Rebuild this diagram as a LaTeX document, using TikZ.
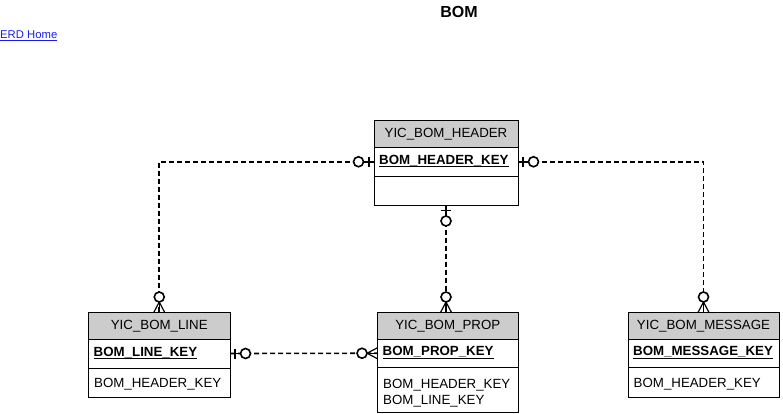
\documentclass[tikz,border=0pt]{standalone}
\usepackage{fontspec}
\setmainfont{Liberation Sans}
\usetikzlibrary{calc}
\definecolor{bandgray}{HTML}{CCCCCC}
\definecolor{linkblue}{HTML}{1A1AEE}
\newcommand\keyul[1]{\setbox0\hbox{#1}\rlap{\rule[-2.8pt]{\wd0}{0.9pt}}\box0}
\newcommand\linkul[1]{\setbox0\hbox{#1}\rlap{\rule[-1.6pt]{\wd0}{0.8pt}}\box0}
\begin{document}
\begin{tikzpicture}[x=1pt,y=-1pt,
  efont/.style={font=\fontsize{13.3}{16}\selectfont},
  band/.style={draw=black, fill=bandgray, line width=0.9pt, anchor=north west, inner sep=0pt, outer sep=0pt, efont},
  row/.style={draw=black, fill=white, line width=0.9pt, anchor=north west, inner sep=0pt, outer sep=0pt},
  keytxt/.style={anchor=base west, inner sep=2pt, efont, font=\fontsize{13.3}{16}\selectfont\bfseries},
  attrtxt/.style={anchor=base west, inner sep=2pt, efont},
  rel/.style={line width=1.6pt, dash pattern=on 5pt off 3pt},
  solidrel/.style={line width=1.6pt},
  crowline/.style={line width=1.2pt},
  zeroone/.pic={
    \draw[solidrel] (0,0) -- (10.5,0);
    \draw[solidrel] (5,-5) -- (5,5);
    \draw[solidrel, fill=white] (15.5,0) circle[radius=5pt];
  },
  zeromany/.pic={
    \draw[crowline] (10.5,0) -- (0,0);
    \draw[crowline] (10.5,0) -- (0,-5.5);
    \draw[crowline] (10.5,0) -- (0,5.5);
    \draw[solidrel, fill=white] (15.5,0) circle[radius=5pt];
  }
]
\useasboundingbox (0,0) rectangle (783,414);

% title and link
\node[font=\fontsize{16}{18}\selectfont\bfseries, inner sep=0pt] (title) at (459,11.5) {BOM};
\node[anchor=base west, inner sep=0pt, text=linkblue, font=\fontsize{11.3}{13}\selectfont] (home) at (0,39) {\color{linkblue}\linkul{ERD Home}};

% YIC_BOM_HEADER
\node[band, minimum width=144pt, minimum height=27.5pt] (hdrT) at (374,120) {YIC\_BOM\_HEADER};
\node[row, minimum width=144pt, minimum height=28.5pt] (hdrK) at (hdrT.south west) {};
\node[row, minimum width=144pt, minimum height=29.5pt] (hdrA) at (hdrK.south west) {};
\node[keytxt] (hdrKt) at ($(hdrK.west)+(3,2.5)$) {\keyul{BOM\_HEADER\_KEY}};

% YIC_BOM_LINE
\node[band, minimum width=141.5pt, minimum height=26.5pt] (lineT) at (88.5,312.5) {YIC\_BOM\_LINE};
\node[row, minimum width=141.5pt, minimum height=29pt] (lineK) at (lineT.south west) {};
\node[row, minimum width=141.5pt, minimum height=29pt] (lineA) at (lineK.south west) {};
\node[keytxt] (lineKt) at ($(lineK.west)+(3,2.5)$) {\keyul{BOM\_LINE\_KEY}};
\node[attrtxt] (lineAt) at ($(lineA.north west)+(3.5,19.5)$) {BOM\_HEADER\_KEY};

% YIC_BOM_PROP
\node[band, minimum width=140.5pt, minimum height=26.5pt] (propT) at (377.5,312.5) {YIC\_BOM\_PROP};
\node[row, minimum width=140.5pt, minimum height=28.5pt] (propK) at (propT.south west) {};
\node[row, minimum width=140.5pt, minimum height=45pt] (propA) at (propK.south west) {};
\node[keytxt] (propKt) at ($(propK.west)+(3,2.5)$) {\keyul{BOM\_PROP\_KEY}};
\node[attrtxt] (propAt1) at ($(propA.north west)+(3.5,20.5)$) {BOM\_HEADER\_KEY};
\node[attrtxt] (propAt2) at ($(propA.north west)+(3.5,36.5)$) {BOM\_LINE\_KEY};

% YIC_BOM_MESSAGE
\node[band, minimum width=151pt, minimum height=26.5pt] (msgT) at (628,312.5) {YIC\_BOM\_MESSAGE};
\node[row, minimum width=151pt, minimum height=28.5pt] (msgK) at (msgT.south west) {};
\node[row, minimum width=151pt, minimum height=29.5pt] (msgA) at (msgK.south west) {};
\node[keytxt] (msgKt) at ($(msgK.west)+(3,2.5)$) {\keyul{BOM\_MESSAGE\_KEY}};
\node[attrtxt] (msgAt) at ($(msgA.north west)+(3.5,20)$) {BOM\_HEADER\_KEY};

% connectors
\draw[rel] (hdrK.west) -| (lineT.north);
\draw[rel] (hdrK.east) -| (msgT.north);
\draw[rel] (hdrA.south) -- (hdrA.south |- propT.north);
\draw[rel] (lineK.east) -- (propK.west);

% end symbols
\pic[rotate=180] at (hdrK.west) {zeroone};
\pic at (hdrK.east) {zeroone};
\pic[rotate=-90] at (hdrA.south) {zeroone};
\pic at (lineK.east) {zeroone};
\pic[rotate=90] at (lineT.north) {zeromany};
\pic[rotate=90] at (msgT.north) {zeromany};
\pic[rotate=90] at (hdrA.south |- propT.north) {zeromany};
\pic[rotate=180] at (propK.west) {zeromany};
\end{tikzpicture}
\end{document}
